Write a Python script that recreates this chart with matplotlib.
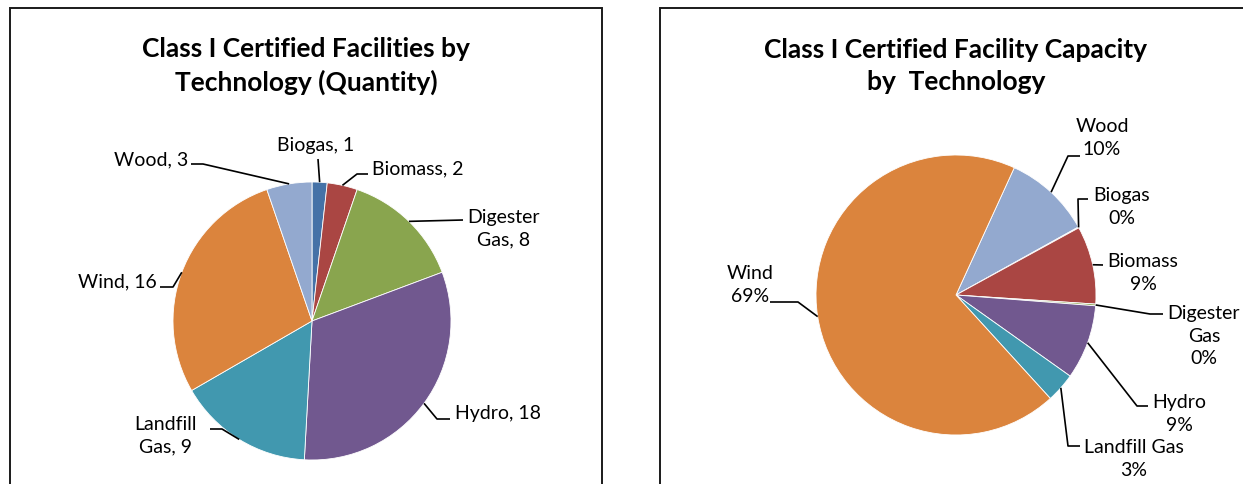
import numpy as np
import matplotlib.pyplot as plt
from matplotlib.patches import Rectangle

W, H = 1243, 485

# left chart: number of facilities
qty_names = ['Biogas', 'Biomass', 'Digester\nGas', 'Hydro', 'Landfill\nGas', 'Wind', 'Wood']
qty_values = [1, 2, 8, 18, 9, 16, 3]
qty_colors = ['#4572A7', '#AA4643', '#89A54E', '#71588F', '#4198AF', '#DB843D', '#93A9CF']

# right chart: share of capacity (%)
cap_names = ['Wood', 'Biogas', 'Biomass', 'Digester\nGas', 'Hydro', 'Landfill Gas', 'Wind']
cap_values = [10.1, 0.1, 9.0, 0.2, 8.6, 3.4, 68.6]
cap_colors = ['#93A9CF', '#4572A7', '#AA4643', '#89A54E', '#71588F', '#4198AF', '#DB843D']

plt.rcParams['font.family'] = ['Lato', 'DejaVu Sans']

fig = plt.figure(figsize=(W / 100, H / 100), dpi=100)
ax = fig.add_axes([0, 0, 1, 1])
ax.set_xlim(0, W)
ax.set_ylim(0, H)
ax.axis('off')


def P(x, y):
    # pixel coords (top-down) -> data coords
    return x, H - y


# chart frames
for x0, x1 in [(10, 602), (660, 1262)]:
    ax.add_patch(Rectangle((x0, -10), x1 - x0, H - 9 + 10, fill=False,
                           edgecolor='#1a1a1a', lw=1.4))


def draw_pie(values, colors, center, radius, startangle, texts, layout):
    wedges, _ = ax.pie(values, colors=colors, center=P(*center), radius=radius,
                       startangle=startangle, counterclock=False, frame=True,
                       wedgeprops=dict(edgecolor='white', linewidth=0.6))
    cx, cy = P(*center)
    for w, txt, (tpos, ha, path) in zip(wedges, texts, layout):
        mid = np.deg2rad((w.theta1 + w.theta2) / 2)
        pts = [(cx + radius * np.cos(mid), cy + radius * np.sin(mid))]
        pts += [P(*p) for p in path]
        xs, ys = zip(*pts)
        ax.plot(xs, ys, color='black', lw=1.2, solid_capstyle='butt')
        ax.text(*P(*tpos), txt, ha=ha, va='center', fontsize=14,
                linespacing=1.36, color='black')


qty_text = [f'{n}, {v}' for n, v in zip(qty_names, qty_values)]
qty_layout = [
    ((316, 146), 'center', [(318, 160)]),
    ((372, 169), 'left', [(357, 175), (368, 175)]),
    ((504, 229), 'center', [(463, 221)]),
    ((455, 414), 'left', [(437, 420), (450, 420)]),
    ((166, 436), 'center', [(222, 430), (210, 430)]),
    ((157, 282), 'right', [(173, 288), (160, 288)]),
    ((188, 160), 'right', [(203, 165), (191, 165)]),
]
draw_pie(qty_values, qty_colors, (312, 322), 139, 90, qty_text, qty_layout)

cap_text = [f'{n}\n{v:.0f}%' for n, v in zip(cap_names, cap_values)]
cap_layout = [
    ((1102, 138), 'center', [(1068, 157), (1080, 157)]),
    ((1122, 207), 'center', [(1078, 200), (1088, 200)]),
    ((1143, 273), 'center', [(1103, 266)]),
    ((1204, 336), 'center', [(1150, 315), (1163, 315)]),
    ((1179, 414), 'center', [(1137, 407), (1148, 407)]),
    ((1134, 459), 'center', [(1068, 447), (1080, 447)]),
    ((750, 285), 'center', [(798, 303), (770, 303)]),
]
draw_pie(cap_values, cap_colors, (956, 296), 140, 65.4, cap_text, cap_layout)

ax.set_xlim(0, W)
ax.set_ylim(0, H)
ax.set_aspect('auto')

ax.text(*P(306, 66), 'Class I Certified Facilities by\nTechnology (Quantity)',
        ha='center', va='center', fontsize=19, fontweight='bold', linespacing=1.44)
ax.text(*P(956, 66), 'Class I Certified Facility Capacity\nby  Technology',
        ha='center', va='center', fontsize=19, fontweight='bold', linespacing=1.44)

fig.savefig('out.png', dpi=100)
